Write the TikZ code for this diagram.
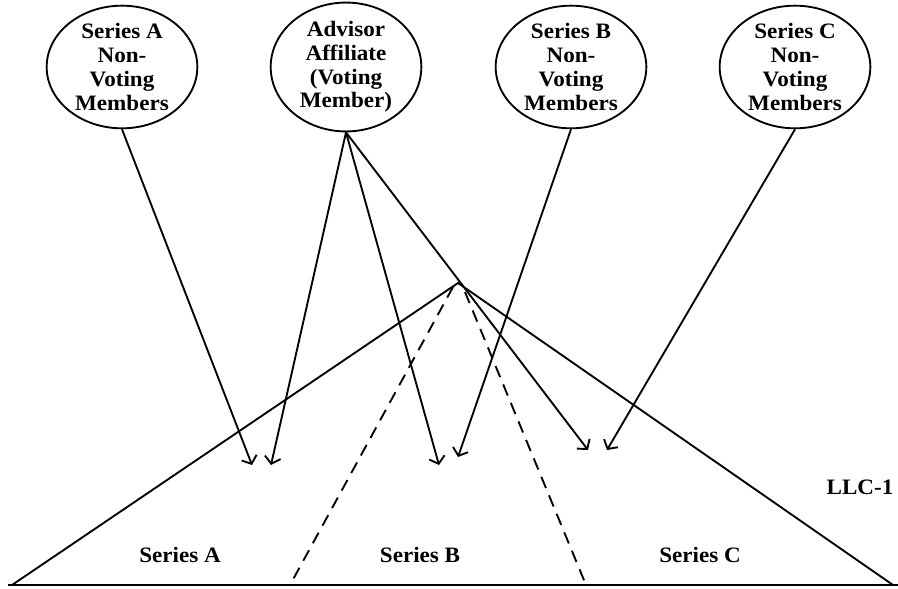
\documentclass[tikz,border=0pt]{standalone}
\usepackage{fontspec}
\setmainfont{Liberation Serif}[FakeStretch=1.05]
\usetikzlibrary{arrows.meta,shapes.geometric,positioning}

\begin{document}
\begin{tikzpicture}[x=0.75pt,y=-0.75pt,
    member/.style={draw,ellipse,line width=1.4pt,minimum width=113pt,minimum height=92pt,
        inner sep=0pt,align=center,font=\bfseries\fontsize{16.5}{17.8}\selectfont},
    serieslbl/.style={font=\bfseries\fontsize{16.5}{17.8}\selectfont},
    link/.style={line width=1.4pt,-{Straight Barb[length=5pt,width=12pt,line width=1.4pt]}},
    side/.style={line width=1.4pt},
    split/.style={line width=1.4pt,dash pattern=on 9pt off 6pt}]
    \useasboundingbox (0,0) rectangle (898,588);

    % members
    \node[member] (seriesA) at (122,67) {Series A\\Non-\\Voting\\Members};
    \node[member] (advisor) at (346,67) {Advisor\\Affiliate\\(Voting\\Member)};
    \node[member] (seriesB) at (571,67) {Series B\\Non-\\Voting\\Members};
    \node[member] (seriesC) at (795,67) {Series C\\Non-\\Voting\\Members};

    % the LLC
    \coordinate (apex) at (458,283);
    \coordinate (baseL) at (12,585);
    \coordinate (baseR) at (893,585);
    \draw[side] (baseL) -- (apex) -- (baseR);
    \draw[line width=2.2pt] (8,585) -- (898,585);
    \draw[split] (453,287) -- (290,585);
    \draw[split] (465,292) -- (586,585);

    \node[serieslbl] (lblA) at (180,555) {Series A};
    \node[serieslbl] (lblB) at (420,555) {Series B};
    \node[serieslbl] (lblC) at (700,555) {Series C};
    \node[serieslbl] (llc) at (860,487) {LLC-1};

    % interests
    \coordinate (tipA) at (252,465);
    \coordinate (tipAdvA) at (271,465);
    \coordinate (tipAdvB) at (439,465);
    \coordinate (tipB) at (458,457);
    \coordinate (tipAdvC) at (588,450);
    \coordinate (tipC) at (607,450);
    \draw[link] (seriesA.south) -- (tipA);
    \draw[link] (advisor.south) -- (tipAdvA);
    \draw[link] (advisor.south) -- (tipAdvB);
    \draw[link] (advisor.south) -- (tipAdvC);
    \draw[link] (seriesB.south) -- (tipB);
    \draw[link] (seriesC.south) -- (tipC);
\end{tikzpicture}
\end{document}
